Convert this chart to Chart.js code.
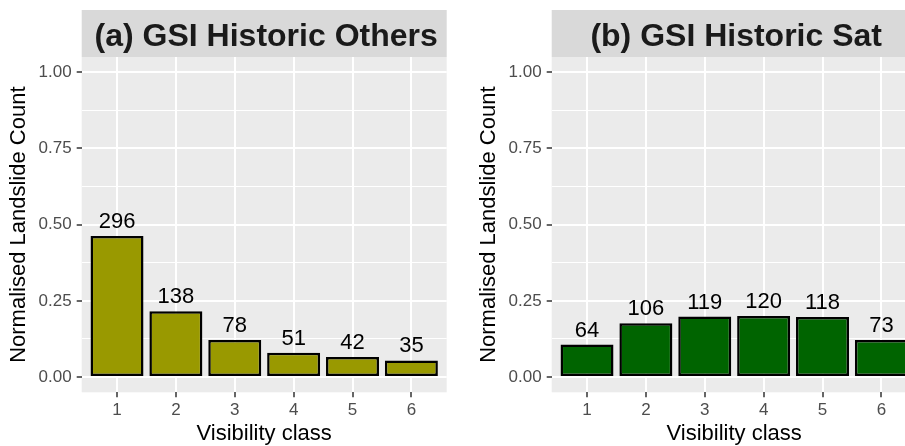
<!DOCTYPE html>
<html>
<head>
<meta charset="utf-8">
<script src="https://cdn.jsdelivr.net/npm/chart.js@4.4.1/dist/chart.umd.min.js"></script>
<style>
  html, body { margin:0; padding:0; background:#fff; }
  body { width:905px; height:446px; overflow:hidden; position:relative; }
  .panel { position:absolute; top:0; width:460px; height:446px; }
</style>
</head>
<body>
<div class="panel" style="left:0;"><canvas id="chart-a" width="460" height="446"></canvas></div>
<div class="panel" style="left:470px;"><canvas id="chart-b" width="460" height="446"></canvas></div>
<script>
  // data
  const classes      = [1, 2, 3, 4, 5, 6];
  const othersCounts = [296, 138, 78, 51, 42, 35];
  const othersValues = [0.4625, 0.2156, 0.1219, 0.0797, 0.0656, 0.0547];
  const satCounts    = [64, 106, 119, 120, 118, 73];
  const satValues    = [0.1067, 0.1767, 0.1983, 0.2000, 0.1967, 0.1217];
  const yMajor = [0, 0.25, 0.5, 0.75, 1];
  const yMinor = [0.125, 0.375, 0.625, 0.875];

  const FONT = "'Liberation Sans', Arial, Helvetica, sans-serif";

  // grey panel background + strip title
  const ggPanel = {
    id: 'ggPanel',
    beforeDraw(chart, args, opts) {
      const { ctx, chartArea: a } = chart;
      ctx.save();
      ctx.fillStyle = '#EBEBEB';
      ctx.fillRect(a.left, a.top, a.right - a.left, a.bottom - a.top);
      ctx.fillStyle = '#D9D9D9';
      ctx.fillRect(a.left, 10, a.right - a.left, a.top - 10);
      ctx.fillStyle = '#1A1A1A';
      ctx.font = `bold 32px ${FONT}`;
      ctx.textAlign = 'center';
      ctx.textBaseline = 'alphabetic';
      ctx.fillText(opts.text, (a.left + a.right) / 2 + 2, 46);
      ctx.restore();
    }
  };

  // counts above bars
  const barLabels = {
    id: 'barLabels',
    afterDatasetsDraw(chart, args, opts) {
      const { ctx } = chart;
      const meta = chart.getDatasetMeta(0);
      ctx.save();
      ctx.fillStyle = '#000';
      ctx.font = `22px ${FONT}`;
      ctx.textAlign = 'center';
      ctx.textBaseline = 'alphabetic';
      meta.data.forEach((bar, i) => ctx.fillText(String(opts.counts[i]), bar.x, bar.y - 8));
      ctx.restore();
    }
  };

  function makePanel(id, title, values, counts, colour) {
    const ctx = document.getElementById(id).getContext('2d');
    return new Chart(ctx, {
      type: 'bar',
      data: {
        datasets: [{
          data: classes.map((c, i) => ({ x: c, y: values[i] })),
          backgroundColor: colour,
          borderColor: '#000',
          borderWidth: 2.5,
          borderSkipped: false,
          barPercentage: 0.9,
          categoryPercentage: 1,
        }]
      },
      options: {
        responsive: false,
        animation: false,
        layout: { padding: { top: 57, right: 13.3, bottom: 0, left: 0 } },
        plugins: {
          legend: { display: false },
          tooltip: { enabled: false },
          ggPanel: { text: title },
          barLabels: { counts },
        },
        scales: {
          x: {
            type: 'linear', min: 0.4, max: 6.6, offset: false,
            afterBuildTicks: s => { s.ticks = classes.map(v => ({ value: v })); },
            afterFit: s => { s.height = 53.7; },
            border: { display: false },
            grid: { offset: false, color: '#fff', lineWidth: 2, drawTicks: true, tickLength: 5, tickColor: '#333', tickWidth: 1.5 },
            ticks: { color: '#4D4D4D', font: { family: FONT, size: 17 }, padding: 3, maxRotation: 0, callback: v => String(v) },
            title: { display: true, text: 'Visibility class', color: '#000', font: { family: FONT, size: 22, lineHeight: 1 }, padding: { top: 0, bottom: 1 } },
          },
          y: {
            type: 'linear', min: -0.05, max: 1.05,
            afterBuildTicks: s => { s.ticks = yMajor.concat(yMinor).sort((a, b) => a - b).map(v => ({ value: v, major: yMajor.includes(v) })); },
            afterFit: s => { s.width = 81.7; },
            border: { display: false },
            grid: {
              color: '#fff',
              lineWidth: c => (c.tick && yMajor.includes(c.tick.value)) ? 2 : 1,
              tickLength: 5,
              tickColor: c => (c.tick && yMajor.includes(c.tick.value)) ? '#333' : 'rgba(0,0,0,0)',
              tickWidth: 1.5,
            },
            ticks: {
              color: '#4D4D4D', font: { family: FONT, size: 17 }, padding: 5, autoSkip: false,
              callback: v => yMajor.includes(v) ? v.toFixed(2) : '',
            },
            title: { display: true, text: 'Normalised Landslide Count', color: '#000', font: { family: FONT, size: 22, lineHeight: 1 }, padding: { top: 8, bottom: 0 } },
          }
        }
      },
      plugins: [ggPanel, barLabels]
    });
  }

  makePanel('chart-a', '(a) GSI Historic Others', othersValues, othersCounts, '#999900');
  makePanel('chart-b', '(b) GSI Historic Sat', satValues, satCounts, '#006400');
</script>
</body>
</html>
